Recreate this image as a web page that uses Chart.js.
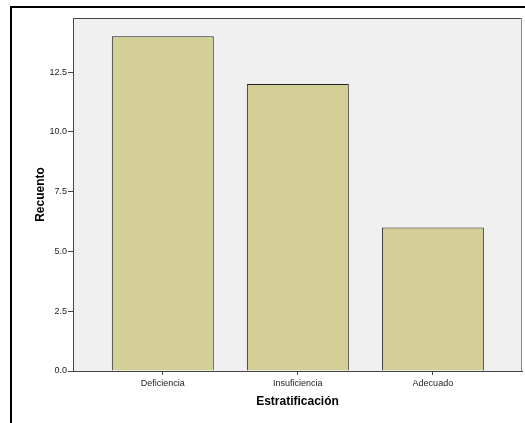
<!DOCTYPE html>
<html>
<head>
<meta charset="utf-8">
<script src="https://cdn.jsdelivr.net/npm/chart.js@4"></script>
<style>
html,body{margin:0;padding:0;background:#fff;}
#wrap{width:525px;height:423px;position:relative;}
</style>
</head>
<body>
<div id="wrap"><canvas id="c" width="525" height="423"></canvas></div>
<script>
const categories = ['Deficiencia', 'Insuficiencia', 'Adecuado'];
const counts = [14, 12, 6];
const yTicks = [0, 2.5, 5, 7.5, 10, 12.5];
const xTitle = 'Estratificación';
const yTitle = 'Recuento';

const framePlugin = {
  id: 'frame',
  beforeDraw(chart) {
    const {ctx, chartArea: a} = chart;
    ctx.save();
    ctx.fillStyle = '#ffffff';
    ctx.fillRect(0, 0, chart.width, chart.height);
    ctx.fillStyle = '#000000';
    ctx.fillRect(10, 6, chart.width - 10, 2);
    ctx.fillRect(10, 6, 2, chart.height - 6);
    ctx.fillStyle = '#f0f0f0';
    ctx.fillRect(a.left, a.top, a.right - a.left, a.bottom - a.top);
    ctx.restore();
  },
  afterDatasetsDraw(chart) {
    const {ctx, chartArea: a} = chart;
    ctx.save();
    ctx.lineWidth = 1;
    ctx.strokeStyle = '#444444';
    ctx.beginPath();
    ctx.moveTo(a.left, a.top + 0.5);
    ctx.lineTo(a.right, a.top + 0.5);
    ctx.stroke();
    ctx.strokeStyle = '#888888';
    ctx.beginPath();
    ctx.moveTo(a.right - 0.5, a.top);
    ctx.lineTo(a.right - 0.5, a.bottom);
    ctx.stroke();
    ctx.restore();
  }
};

const tickFont = {family: 'Arial, "Liberation Sans", sans-serif', size: 9};
const titleFont = {family: 'Arial, "Liberation Sans", sans-serif', size: 12, weight: 'bold'};

new Chart(document.getElementById('c'), {
  type: 'bar',
  data: {
    datasets: [{
      data: counts.map((v, i) => ({x: i, y: v})),
      backgroundColor: '#d3cf97',
      borderColor: '#222222',
      borderWidth: 1,
      borderSkipped: 'bottom',
      barPercentage: 0.755,
      categoryPercentage: 1
    }]
  },
  options: {
    responsive: false,
    animation: false,
    devicePixelRatio: 1,
    layout: {padding: {top: 18, right: 3, left: 0, bottom: 0}},
    plugins: {legend: {display: false}, tooltip: {enabled: false}},
    scales: {
      x: {
        type: 'linear',
        offset: false,
        min: -0.665,
        max: 2.66,
        grid: {offset: false, drawOnChartArea: false, drawTicks: true, tickLength: 4, color: '#444444'},
        border: {display: true, color: '#444444', width: 1},
        afterBuildTicks(scale) { scale.ticks = categories.map((_, i) => ({value: i})); },
        afterFit(scale) { scale.height = 52; },
        ticks: {
          autoSkip: false, maxRotation: 0, padding: 3, color: '#222222', font: tickFont,
          callback: (v) => categories[v] !== undefined ? categories[v] : ''
        },
        title: {display: true, text: xTitle, color: '#000000', font: titleFont, padding: {top: 0, bottom: 14}}
      },
      y: {
        min: 0,
        max: 14.76,
        grid: {drawOnChartArea: false, drawTicks: true, tickLength: 5, color: '#444444'},
        border: {display: true, color: '#444444', width: 1},
        afterBuildTicks(scale) { scale.ticks = yTicks.map(v => ({value: v})); },
        afterFit(scale) { scale.width = 73; },
        ticks: {padding: 1, color: '#222222', font: tickFont, callback: (v) => Number(v).toFixed(1)},
        title: {display: true, text: yTitle, color: '#000000', font: titleFont, padding: {top: 33, bottom: 0}}
      }
    }
  },
  plugins: [framePlugin]
});
</script>
</body>
</html>
